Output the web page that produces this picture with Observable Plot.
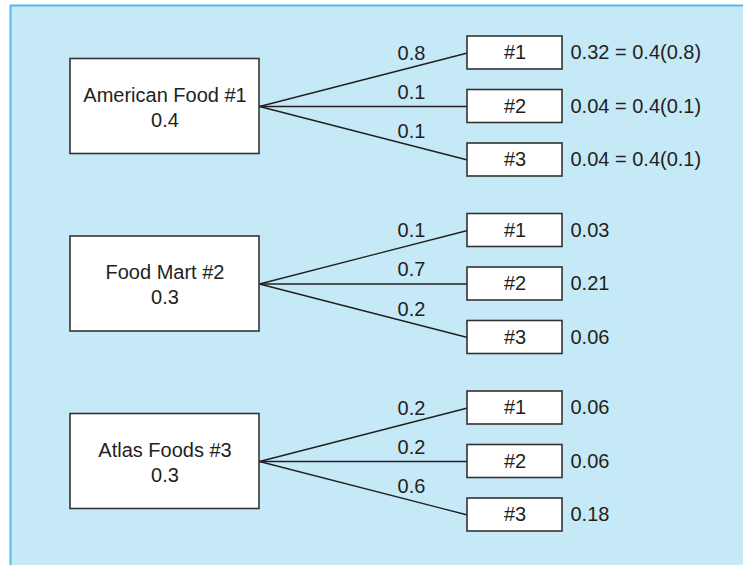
<!DOCTYPE html>
<html>
<head>
<meta charset="utf-8">
<script src="https://cdn.jsdelivr.net/npm/d3@7"></script>
<script src="https://cdn.jsdelivr.net/npm/@observablehq/plot@0.6"></script>
<style>
  html, body { margin: 0; padding: 0; background: #ffffff; overflow: hidden; }
  #chart svg { display: block; }
</style>
</head>
<body>
<div id="chart"></div>
<script>
// ---- data ----
const stores = ["American Food #1", "Food Mart #2", "Atlas Foods #3"];
const storeProbs = ["0.4", "0.3", "0.3"];
const outcomes = ["#1", "#2", "#3"];
const branchProbs = [
  ["0.8", "0.1", "0.1"],
  ["0.1", "0.7", "0.2"],
  ["0.2", "0.2", "0.6"]
];
const jointLabels = [
  ["0.32 = 0.4(0.8)", "0.04 = 0.4(0.1)", "0.04 = 0.4(0.1)"],
  ["0.03", "0.21", "0.06"],
  ["0.06", "0.06", "0.18"]
];

// ---- layout (diagram geometry, in scale units) ----
const W = 743, H = 565;
const L = {
  panelX: 10, panelY: 5,
  leftX1: 70, leftX2: 259, leftH: 95,
  rightX1: 467, rightX2: 562, rightH: 33,
  firstCenter: 106, groupStep: 177.5, branchStep: 53.5,
  labelX: 411, jointX: 570
};
const ink = "#231f20";
const font = "Liberation Sans, Arial, Helvetica, sans-serif";

const groups = stores.map((name, i) => ({
  name, p: storeProbs[i], cy: L.firstCenter + i * L.groupStep
}));
const leaves = [];
groups.forEach((g, i) => {
  outcomes.forEach((o, j) => {
    leaves.push({
      group: i, outcome: o, prob: branchProbs[i][j], joint: jointLabels[i][j],
      y0: g.cy, cy: g.cy + (j - 1) * L.branchStep
    });
  });
});
// label sits above its branch line at labelX
const t = (L.labelX - L.leftX2) / (L.rightX1 - L.leftX2);
leaves.forEach(d => { d.ly = d.y0 + (d.cy - d.y0) * t; });

const chart = Plot.plot({
  width: W, height: H,
  margin: 0,
  x: {domain: [0, W], range: [0, W], axis: null},
  y: {domain: [0, H], range: [0, H], axis: null},
  style: {fontFamily: font, background: "#ffffff"},
  marks: [
    // background panel
    Plot.rect([0], {x1: L.panelX, x2: W, y1: L.panelY, y2: H, fill: "#c6e9f8"}),
    Plot.ruleX([L.panelX], {y1: L.panelY, y2: H, stroke: "#5bb9e6", strokeWidth: 2}),
    Plot.ruleY([L.panelY], {x1: L.panelX, x2: W, stroke: "#5bb9e6", strokeWidth: 2}),
    // branch lines
    Plot.link(leaves, {
      x1: () => L.leftX2, y1: "y0", x2: () => L.rightX1, y2: "cy",
      stroke: ink, strokeWidth: 1.3
    }),
    // left boxes
    Plot.rect(groups, {
      x1: () => L.leftX1, x2: () => L.leftX2,
      y1: d => d.cy - L.leftH / 2, y2: d => d.cy + L.leftH / 2,
      fill: "#ffffff", stroke: "#333333", strokeWidth: 1.6
    }),
    Plot.text(groups, {
      x: () => (L.leftX1 + L.leftX2) / 2, y: "cy", text: "name", dy: -11,
      fontSize: 20, fill: ink, fontFamily: font
    }),
    Plot.text(groups, {
      x: () => (L.leftX1 + L.leftX2) / 2, y: "cy", text: "p", dy: 14,
      fontSize: 20, fill: ink, fontFamily: font
    }),
    // right boxes
    Plot.rect(leaves, {
      x1: () => L.rightX1, x2: () => L.rightX2,
      y1: d => d.cy - L.rightH / 2, y2: d => d.cy + L.rightH / 2,
      fill: "#ffffff", stroke: "#333333", strokeWidth: 1.6
    }),
    Plot.text(leaves, {
      x: () => (L.rightX1 + L.rightX2) / 2, y: "cy", text: "outcome",
      fontSize: 20, fill: ink, fontFamily: font
    }),
    // branch probability labels
    Plot.text(leaves, {
      x: () => L.labelX, y: "ly", text: "prob", dy: -14,
      fontSize: 20, fill: ink, fontFamily: font
    }),
    // joint probability labels
    Plot.text(leaves, {
      x: () => L.jointX, y: "cy", text: "joint", textAnchor: "start",
      fontSize: 20, fill: ink, fontFamily: font
    })
  ]
});
document.getElementById("chart").appendChild(chart);
</script>
</body>
</html>
